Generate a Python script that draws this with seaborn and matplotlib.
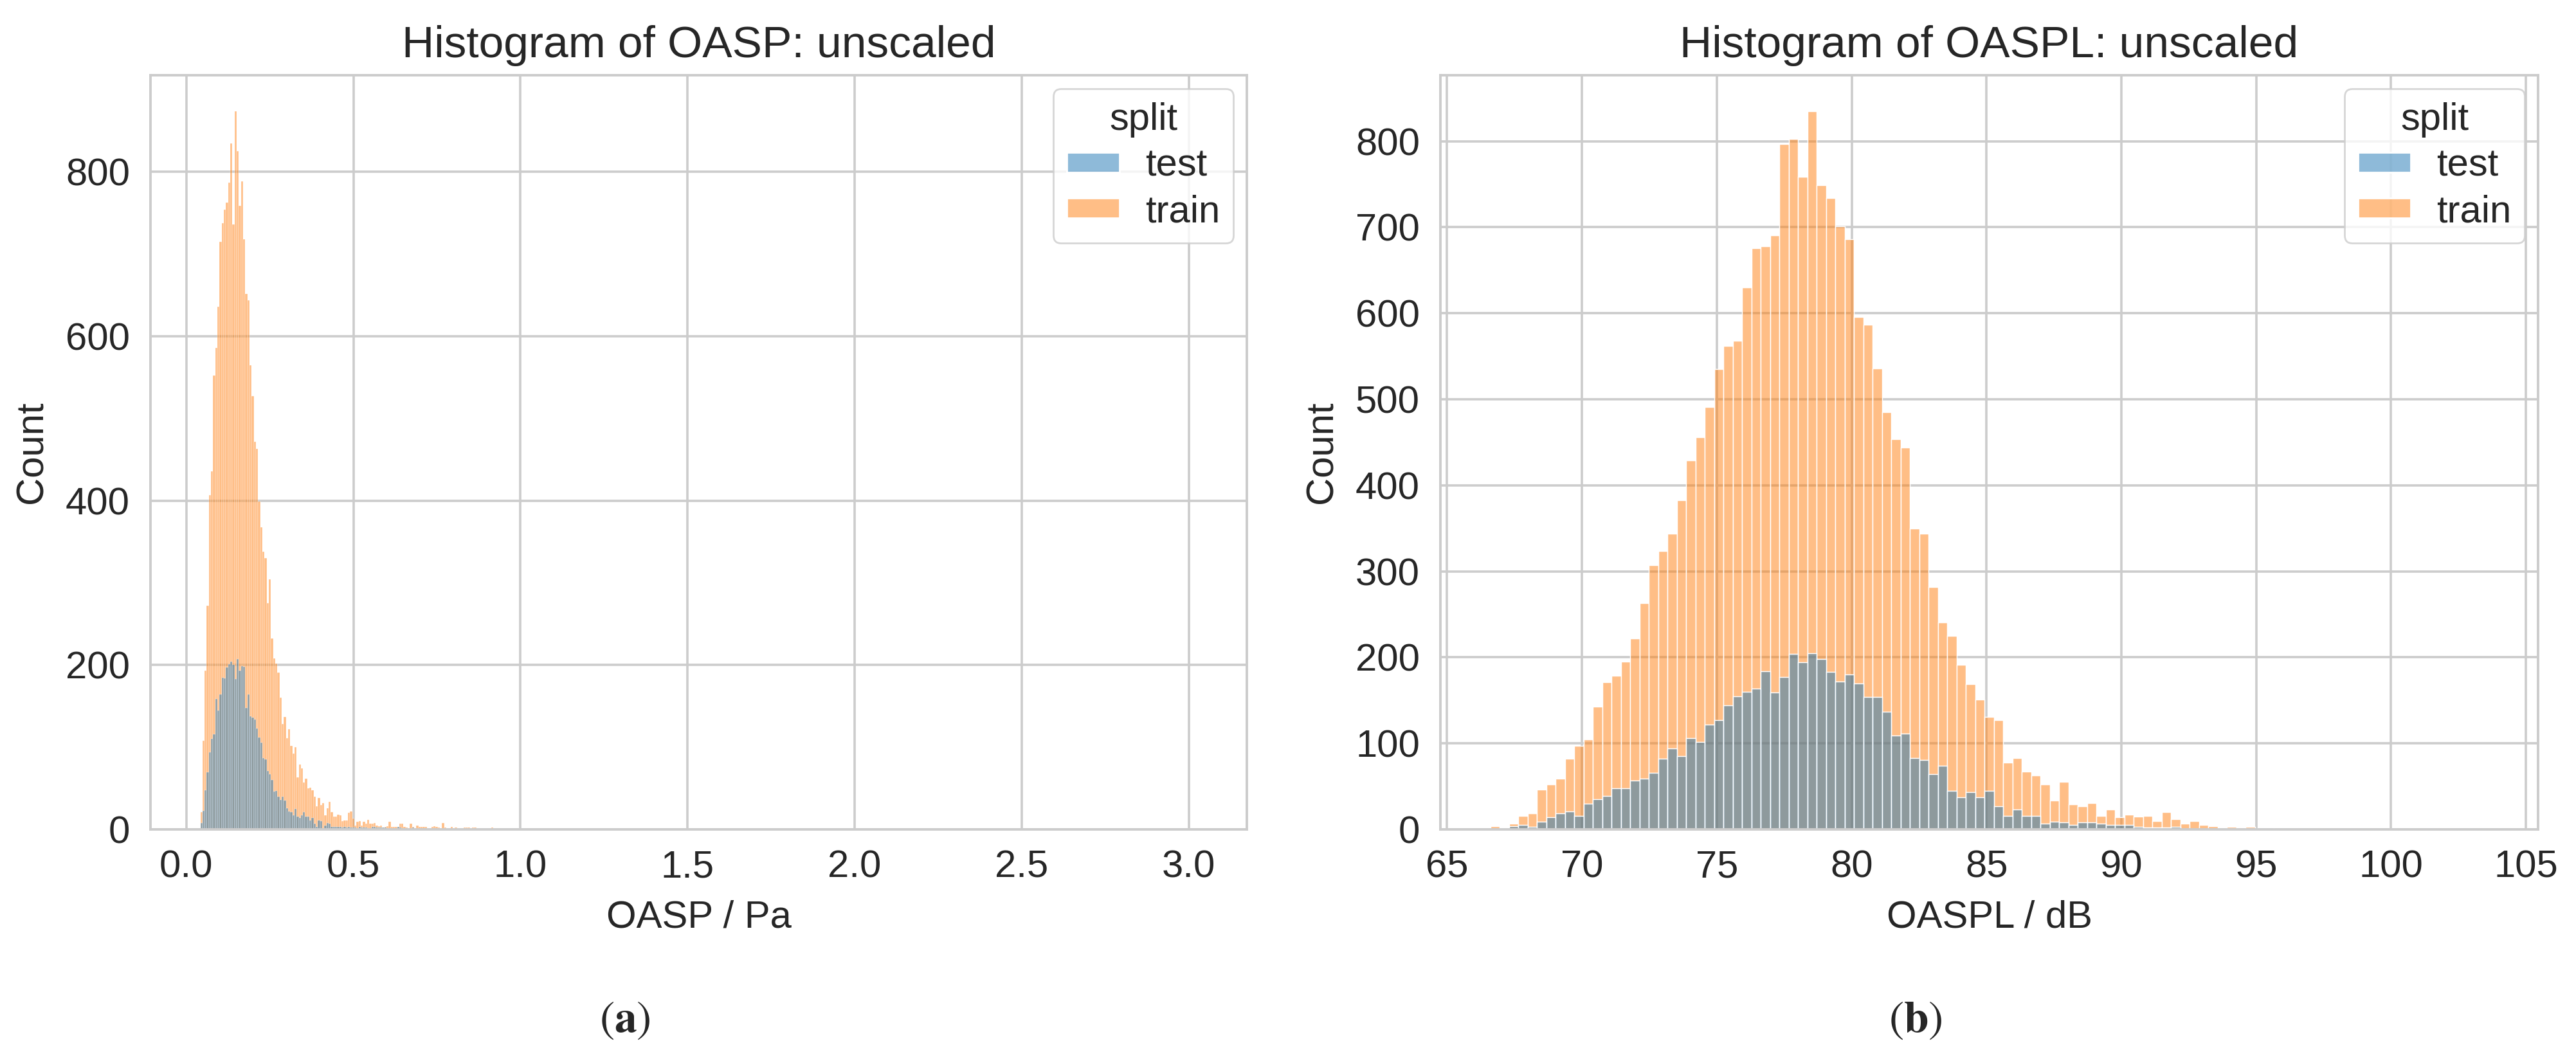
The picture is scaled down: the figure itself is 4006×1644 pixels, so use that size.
import numpy as np
import pandas as pd
import matplotlib
matplotlib.use("Agg")
import matplotlib.pyplot as plt
import seaborn as sns
from matplotlib.ticker import MultipleLocator

# ---------------- data (bin counts) ----------------
splits = ["test", "train"]
split_colors = ["#1f77b4", "#ff7f0e"]

# OASP histogram (Pa): uniform bins starting at oasp_start
oasp_start = 0.042
oasp_binwidth = 0.0064
oasp_nbins = 466
oasp_train = [21, 108, 193, 272, 407, 436, 552, 586, 636, 715, 738, 754, 763, 787, 835, 736,
              874, 825, 759, 789, 718, 652, 644, 565, 527, 472, 463, 399, 368, 338, 330, 275,
              304, 232, 208, 202, 191,
              160, 128, 137, 111, 122, 102, 92, 100, 63, 79,
              74, 57, 62, 50, 51, 48, 40, 28, 38, 30,
              32, 17, 26, 34, 21, 16, 16, 18, 17, 10,
              11, 11, 20, 22, 13, 5, 9, 10, 5, 9,
              7, 12, 7, 7, 8, 5, 4, 5, 2, 3,
              4, 9, 3, 3, 3, 3, 7, 7, 3, 2,
              0, 7, 3, 0, 5, 3, 3, 3, 3, 0,
              0, 3, 4, 3,
              2, 1, 8, 2, 1, 0, 3, 1, 2, 0,
              1, 0, 2, 2, 2, 1, 2, 2, 0, 1,
              1, 1, 0, 1, 1, 2, 0, 0, 1, 0,
              0, 0, 0, 1, 0, 0, 0, 0, 1, 0,
              0, 0, 0, 0, 0, 0, 0, 0, 0, 0,
              1, 0, 0, 0, 1, 0, 0, 0, 0, 0,
              0, 0, 0, 0, 0, 0, 1]
oasp_test = [8, 23, 48, 70, 94, 110, 116, 159, 145, 164, 185, 184, 197, 201, 204, 200,
             183, 207, 193, 199, 198, 148, 164, 138, 136, 134, 123, 112, 106, 87, 85, 71,
             67, 60,
             46, 47, 40, 36, 40, 35, 26, 22, 21, 17, 25, 16, 14, 17, 21, 16, 16, 11, 14, 7,
             3, 11, 10, 1, 5, 8, 7, 3, 3, 3, 3, 3, 2, 3, 2, 3, 2, 2, 2, 1, 3, 2, 2, 2,
             0, 1, 3, 3, 2, 2, 2, 2, 2, 0, 0, 0, 0, 0, 3, 2, 0, 0, 1, 0, 0, 2]
# isolated far-tail bins (bin index, count)
oasp_train_tail_bins = [465]
oasp_train_tail_counts = [1]

# OASPL histogram (dB)
oaspl_start = 66.60
oaspl_binwidth = 0.3458
oaspl_nbins = 107
oaspl_train = [4, 1, 7, 16, 19, 46, 52, 59, 82, 97,
               105, 143, 171, 179, 195, 222, 263, 307, 324, 344,
               383, 429, 456, 491, 535, 562, 568, 630, 676, 678,
               691, 797, 803, 759, 835, 749, 734, 701, 686, 596,
               587, 536, 485, 454, 444, 350, 344, 282, 241, 225,
               191, 169, 151, 131, 127, 78, 83, 67, 63, 52,
               34, 55, 29, 27, 31, 16, 23, 14, 17, 15,
               16, 10, 20, 12, 7, 10, 5, 4, 0, 3,
               2, 3, 0, 1, 1, 0, 1, 0, 0, 1,
               0, 0, 0, 0, 0, 0, 1, 0, 0, 0,
               0, 0, 0, 0, 0, 0, 1]
oaspl_test = [0, 1, 4, 5, 3, 9, 14, 19, 21, 16,
              30, 35, 39, 48, 48, 57, 59, 66, 82, 94,
              85, 106, 102, 122, 127, 144, 155, 160, 164, 184,
              159, 177, 204, 194, 205, 198, 183, 172, 180, 170,
              154, 154, 137, 109, 111, 83, 81, 64, 74, 45,
              37, 43, 37, 45, 27, 16, 23, 16, 16, 7,
              9, 8, 5, 8, 8, 7, 5, 5, 5, 3,
              2, 2, 2, 3, 0, 0, 0, 0, 1, 0, 1]


def padded(counts, n, extra_bins=(), extra_counts=()):
    arr = np.zeros(n)
    arr[:len(counts)] = counts
    for b, c in zip(extra_bins, extra_counts):
        arr[b] = c
    return arr


def hist_frame(start, width, n, test_counts, train_counts):
    edges = start + width * np.arange(n + 1)
    centers = 0.5 * (edges[:-1] + edges[1:])
    df = pd.concat([
        pd.DataFrame({"value": centers, "count": test_counts, "split": "test"}),
        pd.DataFrame({"value": centers, "count": train_counts, "split": "train"}),
    ], ignore_index=True)
    return df, (edges[0], edges[-1])


oasp_df, oasp_range = hist_frame(
    oasp_start, oasp_binwidth, oasp_nbins,
    padded(oasp_test, oasp_nbins),
    padded(oasp_train, oasp_nbins, oasp_train_tail_bins, oasp_train_tail_counts))
oaspl_df, oaspl_range = hist_frame(
    oaspl_start, oaspl_binwidth, oaspl_nbins,
    padded(oaspl_test, oaspl_nbins), padded(oaspl_train, oaspl_nbins))

# ---------------- style ----------------
sns.set_style("whitegrid")
plt.rcParams["font.family"] = ["Liberation Sans", "DejaVu Sans"]
plt.rcParams["mathtext.fontset"] = "stix"
plt.rcParams["grid.linewidth"] = 1.3
plt.rcParams["axes.linewidth"] = 1.4
plt.rcParams["legend.fontsize"] = 21.5
plt.rcParams["legend.title_fontsize"] = 21.5

DPI = 200
fig = plt.figure(figsize=(4006 / DPI, 1644 / DPI), dpi=DPI)

W, H = 4006, 1644
ax_bottom = 1 - 1290 / H
ax_height = (1290 - 117) / H
ax1 = fig.add_axes([234 / W, ax_bottom, (1939 - 234) / W, ax_height])
ax2 = fig.add_axes([2240 / W, ax_bottom, (3947 - 2240) / W, ax_height])

palette = dict(zip(splits, split_colors))

panels = [
    (ax1, oasp_df, oasp_nbins, oasp_range, "Histogram of OASP: unscaled", "OASP / Pa", 0.5, 200),
    (ax2, oaspl_df, oaspl_nbins, oaspl_range, "Histogram of OASPL: unscaled", "OASPL / dB", 5, 100),
]
for ax, df, nb, brange, title, xlabel, xstep, ystep in panels:
    sns.histplot(data=df, x="value", weights="count", hue="split", hue_order=splits,
                 bins=nb, binrange=brange, palette=palette, alpha=0.5, ax=ax)
    ax.set_title(title, fontsize=25, pad=10)
    ax.set_xlabel(xlabel, fontsize=21.5, labelpad=8)
    ax.set_ylabel("Count", fontsize=21.5, labelpad=9)
    ax.xaxis.set_major_locator(MultipleLocator(xstep))
    ax.yaxis.set_major_locator(MultipleLocator(ystep))
    ax.tick_params(axis="both", labelsize=21.5, length=0, pad=11.5)
    for s in ax.spines.values():
        s.set_color("0.8")
    sns.move_legend(ax, "upper right", title="split", handlelength=1.37,
                    handleheight=0.42, handletextpad=0.67, labelspacing=0.28,
                    borderpad=0.35, borderaxespad=0.35, frameon=True)

# sub-figure captions
fig.text(972 / W, 1 - 1587 / H, r"$(\mathbf{a})$", ha="center", va="center", fontsize=25)
fig.text(2979 / W, 1 - 1587 / H, r"$(\mathbf{b})$", ha="center", va="center", fontsize=25)

fig.savefig("out.png", dpi=DPI)
